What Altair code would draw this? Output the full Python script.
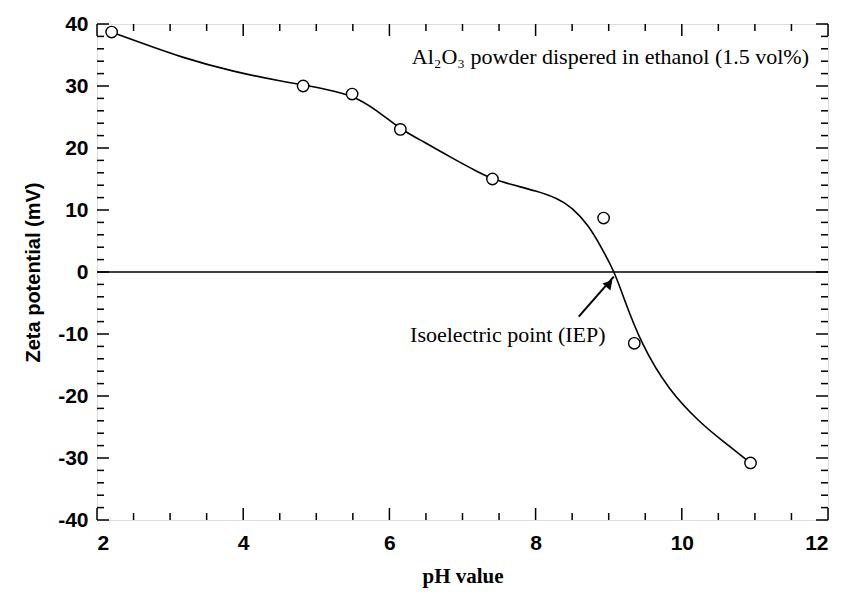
import altair as alt
import pandas as pd

# measured points
ph_pts = [2.2, 4.82, 5.49, 6.15, 7.41, 8.93, 9.35, 10.94]
zeta_pts = [38.7, 30.0, 28.7, 23.0, 15.0, 8.7, -11.5, -30.8]

# smooth fitted curve
ph_curve = [2.2, 2.5, 3.18, 3.87, 4.55, 4.82, 5.15, 5.49, 5.83, 6.15, 6.47, 6.84, 7.2, 7.41,
            7.7, 8.0, 8.3, 8.5, 8.72, 8.89, 9.08, 9.2, 9.44, 9.82, 10.27, 10.49, 10.94]
zeta_curve = [38.7, 37.4, 34.5, 32.3, 30.7, 30.2, 29.4, 28.5, 26.1, 23.0, 21.0, 18.5, 16.2, 15.0,
              14.0, 13.1, 11.9, 10.4, 7.6, 4.2, 0.0, -4.0, -11.5, -19.1, -24.5, -26.6, -30.8]

x_major = [2, 4, 6, 8, 10, 12]
x_minor = [2.5, 3, 3.5, 4.5, 5, 5.5, 6.5, 7, 7.5, 8.5, 9, 9.5, 10.5, 11, 11.5]
y_major = [-40, -30, -20, -10, 0, 10, 20, 30, 40]
y_minor = [-38, -36, -34, -32, -28, -26, -24, -22, -18, -16, -14, -12, -8, -6, -4, -2,
           2, 4, 6, 8, 12, 14, 16, 18, 22, 24, 26, 28, 32, 34, 36, 38]

arrow_x = [8.59, 9.07]
arrow_y = [-7.2, -0.76]

W, H = 731, 496
MAJ, MIN = 12, 7

xs = alt.Scale(domain=[2, 12], nice=False)
ys = alt.Scale(domain=[-40, 40], nice=False)

df_pts = pd.DataFrame({"ph": ph_pts, "zeta": zeta_pts})
df_curve = pd.DataFrame({"ph": ph_curve, "zeta": zeta_curve})

x_axis = alt.Axis(values=x_major, ticks=False, domain=False, grid=False, labelFont="Liberation Sans",
                  labelFontWeight="bold", labelFontSize=21, labelColor="black", labelPadding=12,
                  labelExpr="'' + datum.value",
                  title="pH value", titleFont="Liberation Serif", titleFontSize=21,
                  titleFontWeight="bold", titleColor="black", titlePadding=12)
y_axis = alt.Axis(values=y_major, ticks=False, domain=False, grid=False, labelFont="Liberation Sans",
                  labelFontWeight="bold", labelFontSize=21, labelColor="black", labelPadding=9,
                  labelExpr="'' + datum.value",
                  title="Zeta potential (mV)", titleFont="Liberation Sans", titleFontSize=20,
                  titleFontWeight="bold", titleColor="black", titlePadding=14)

base_curve = alt.Chart(df_curve).mark_line(color="black", strokeWidth=1.6, interpolate="basis").encode(
    x=alt.X("ph:Q", scale=xs, axis=x_axis),
    y=alt.Y("zeta:Q", scale=ys, axis=y_axis),
)

zero = alt.Chart(pd.DataFrame({"z": [0]})).mark_rule(color="black", strokeWidth=1.6).encode(
    y=alt.Y("z:Q", scale=ys)
)

points = alt.Chart(df_pts).mark_point(shape="circle", filled=True, fill="white", stroke="black",
                                      strokeWidth=1.4, size=130, opacity=1).encode(
    x=alt.X("ph:Q", scale=xs), y=alt.Y("zeta:Q", scale=ys)
)

def xticks(vals, length):
    d = pd.DataFrame({"t": vals})
    bottom = alt.Chart(d).mark_rule(color="black", strokeWidth=1.5).encode(
        x=alt.X("t:Q", scale=xs), y=alt.value(H), y2=alt.value(H - length))
    top = alt.Chart(d).mark_rule(color="black", strokeWidth=1.5).encode(
        x=alt.X("t:Q", scale=xs), y=alt.value(0), y2=alt.value(length))
    return [bottom, top]

def yticks(vals, length):
    d = pd.DataFrame({"t": vals})
    left = alt.Chart(d).mark_rule(color="black", strokeWidth=1.5).encode(
        y=alt.Y("t:Q", scale=ys), x=alt.value(0), x2=alt.value(length))
    right = alt.Chart(d).mark_rule(color="black", strokeWidth=1.5).encode(
        y=alt.Y("t:Q", scale=ys), x=alt.value(W), x2=alt.value(W - length))
    return [left, right]

ticks = xticks(x_major, MAJ) + xticks(x_minor, MIN) + yticks(y_major, MAJ) + yticks(y_minor, MIN)

df_arrow = pd.DataFrame({"ph": arrow_x, "zeta": arrow_y})
arrow_line = alt.Chart(df_arrow).mark_line(color="black", strokeWidth=2).encode(
    x=alt.X("ph:Q", scale=xs), y=alt.Y("zeta:Q", scale=ys))
arrow_head = alt.Chart(pd.DataFrame({"ph": [arrow_x[1] - 0.06], "zeta": [arrow_y[1] - 1.1]})).mark_point(
    shape="triangle-up", filled=True, color="black", size=110, angle=41, opacity=1).encode(
    x=alt.X("ph:Q", scale=xs), y=alt.Y("zeta:Q", scale=ys))

labels = pd.DataFrame({
    "ph": [11.74],
    "zeta": [34.7],
    "txt": ["Al\u2082O\u2083 powder dispered in ethanol (1.5 vol%)"],
})
title_text = alt.Chart(labels).mark_text(font="Liberation Serif", fontSize=22, color="black",
                                         align="right", baseline="middle").encode(
    x=alt.X("ph:Q", scale=xs), y=alt.Y("zeta:Q", scale=ys), text="txt:N")

iep = pd.DataFrame({"ph": [7.62], "zeta": [-10.2], "txt": ["Isoelectric point (IEP)"]})
iep_text = alt.Chart(iep).mark_text(font="Liberation Serif", fontSize=22, color="black",
                                    align="center", baseline="middle").encode(
    x=alt.X("ph:Q", scale=xs), y=alt.Y("zeta:Q", scale=ys), text="txt:N")

chart = alt.layer(zero, base_curve, *ticks, arrow_line, arrow_head, points, title_text, iep_text).properties(
    width=W, height=H,
    autosize=alt.AutoSizeParams(type="none"),
    padding={"left": 89, "top": 16, "right": 6, "bottom": 74},
).configure_view(stroke="black", strokeWidth=2).configure(background="white")

chart.save("out.html", embed_options={"renderer": "svg", "actions": False})
